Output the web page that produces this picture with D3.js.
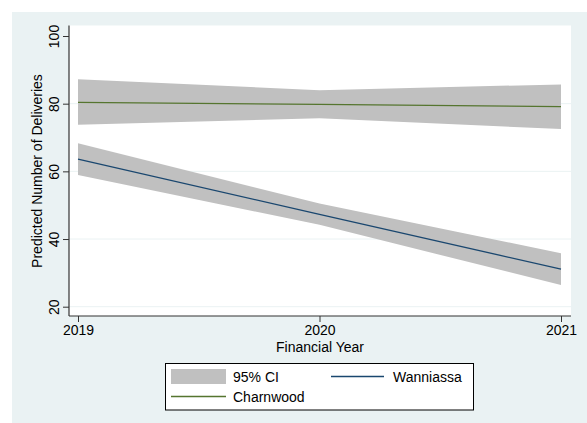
<!DOCTYPE html>
<html>
<head>
<meta charset="utf-8">
<script src="https://cdn.jsdelivr.net/npm/d3@7"></script>
<style>
  html, body { margin: 0; padding: 0; background: #ffffff; }
  svg { display: block; font-family: "Liberation Sans", Arial, sans-serif; }
</style>
</head>
<body>
<svg id="chart" width="587" height="423"></svg>
<script>
// Predicted deliveries by financial year, with 95% confidence bands
const years = [2019, 2020, 2021];
const wanniassa = [63.6, 47.3, 31.1];
const wanniassaLo = [58.9, 44.2, 26.4];
const wanniassaHi = [68.3, 50.5, 35.8];
const charnwood = [80.4, 79.8, 79.1];
const charnwoodLo = [73.8, 75.7, 72.5];
const charnwoodHi = [87.2, 84.0, 85.7];
const yTicks = [20, 40, 60, 80, 100];
const xTicks = [2019, 2020, 2021];

const svg = d3.select("#chart");

// outer graph region and inner plot region
svg.append("rect").attr("x", 12).attr("y", 12).attr("width", 575).attr("height", 411).attr("fill", "#eaf2f3");
const plot = { left: 69, right: 571, top: 25.5, bottom: 316 };
svg.append("rect").attr("x", plot.left).attr("y", plot.top)
  .attr("width", plot.right - plot.left).attr("height", plot.bottom - plot.top).attr("fill", "#ffffff");

const x = d3.scaleLinear().domain([2019, 2021]).range([78, 561]);
const y = d3.scaleLinear().domain([20, 100]).range([306.7, 36]);

// horizontal gridlines
svg.append("g").selectAll("line").data(yTicks.filter(t => t !== 100)).join("line")
  .attr("x1", plot.left).attr("x2", plot.right)
  .attr("y1", d => y(d)).attr("y2", d => y(d))
  .attr("stroke", "#eaf2f3").attr("stroke-width", 1);

const area = (lo, hi) => d3.area()
  .x((d, i) => x(years[i])).y0((d, i) => y(lo[i])).y1((d, i) => y(hi[i]));
const line = vals => d3.line().x((d, i) => x(years[i])).y((d, i) => y(vals[i]));

svg.append("path").datum(years).attr("d", area(charnwoodLo, charnwoodHi)).attr("fill", "#c0c0c0");
svg.append("path").datum(years).attr("d", area(wanniassaLo, wanniassaHi)).attr("fill", "#c0c0c0");
svg.append("path").datum(years).attr("d", line(charnwood)).attr("fill", "none").attr("stroke", "#55752f").attr("stroke-width", 1.3);
svg.append("path").datum(years).attr("d", line(wanniassa)).attr("fill", "none").attr("stroke", "#1a476f").attr("stroke-width", 1.3);

// axes
const yAxis = svg.append("g").attr("transform", `translate(${plot.left},0)`)
  .call(d3.axisLeft(y).tickValues(yTicks).tickSize(6).tickSizeOuter(0).tickFormat(d3.format("d")));
yAxis.select(".domain").attr("d", `M0,${plot.top}V${plot.bottom}`).attr("stroke", "#333").attr("stroke-width", 1.2);
yAxis.selectAll(".tick line").attr("stroke", "#333");
yAxis.selectAll(".tick text")
  .attr("transform", "rotate(-90)").attr("x", 0).attr("y", -10)
  .attr("dy", 0).attr("text-anchor", "middle")
  .attr("font-size", 14).attr("fill", "#000").attr("font-family", "Liberation Sans, Arial, sans-serif");

const xAxis = svg.append("g").attr("transform", `translate(0,${plot.bottom})`)
  .call(d3.axisBottom(x).tickValues(xTicks).tickSize(6).tickSizeOuter(0).tickFormat(d3.format("d")));
xAxis.select(".domain").attr("d", `M${plot.left},0H${plot.right}`).attr("stroke", "#333").attr("stroke-width", 1.2);
xAxis.selectAll(".tick line").attr("stroke", "#333");
xAxis.selectAll(".tick text").attr("y", 9).attr("dy", "0.71em")
  .attr("font-size", 14).attr("fill", "#000").attr("font-family", "Liberation Sans, Arial, sans-serif");

// axis titles
svg.append("text").attr("x", 320).attr("y", 352).attr("text-anchor", "middle")
  .attr("font-size", 14).text("Financial Year");
svg.append("text").attr("transform", "translate(42,171) rotate(-90)").attr("text-anchor", "middle")
  .attr("font-size", 14).text("Predicted Number of Deliveries");

// legend
const lg = svg.append("g");
lg.append("rect").attr("x", 165.5).attr("y", 363.5).attr("width", 308).attr("height", 46.5)
  .attr("fill", "#ffffff").attr("stroke", "#000").attr("stroke-width", 1);
lg.append("rect").attr("x", 171).attr("y", 369).attr("width", 55).attr("height", 15).attr("fill", "#c0c0c0");
lg.append("text").attr("x", 233).attr("y", 382).attr("font-size", 14).text("95% CI");
lg.append("line").attr("x1", 171).attr("x2", 226).attr("y1", 396.5).attr("y2", 396.5)
  .attr("stroke", "#55752f").attr("stroke-width", 1.3);
lg.append("text").attr("x", 233).attr("y", 402).attr("font-size", 14).text("Charnwood");
lg.append("line").attr("x1", 331).attr("x2", 384).attr("y1", 376.5).attr("y2", 376.5)
  .attr("stroke", "#1a476f").attr("stroke-width", 1.3);
lg.append("text").attr("x", 393).attr("y", 382).attr("font-size", 14).text("Wanniassa");
</script>
</body>
</html>
